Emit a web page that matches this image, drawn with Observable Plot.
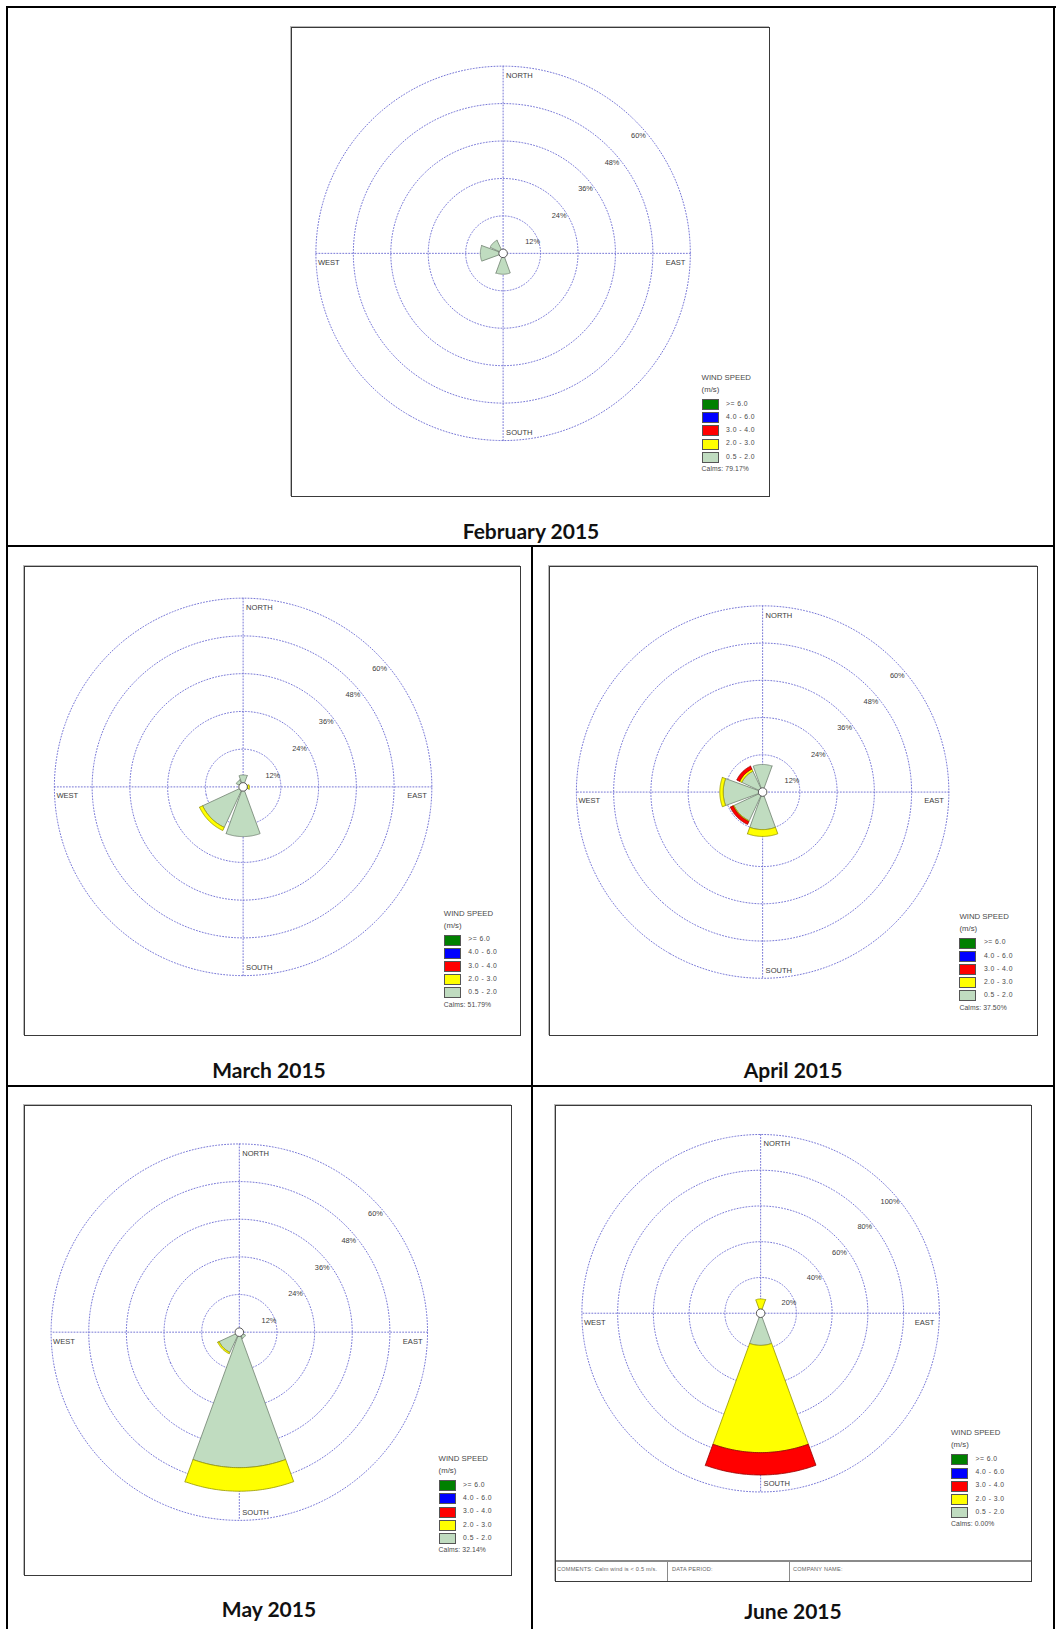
<!DOCTYPE html>
<html>
<head>
<meta charset="utf-8">
<script src="https://cdn.jsdelivr.net/npm/d3@7"></script>
<script src="https://cdn.jsdelivr.net/npm/@observablehq/plot@0.6"></script>
<style>
  body { margin: 0; background: #fff; }
  #page { position: relative; width: 1056px; height: 1629px; overflow: hidden; background: #fff;
          font-family: "Liberation Sans", Arial, sans-serif; }
  .rule { position: absolute; background: #000; }
  .frame { position: absolute; box-sizing: border-box; border: 1px solid #3a3a3a;
           box-shadow: -1px -1px 0 #b8b8b8; overflow: hidden; }
  .frame svg { position: absolute; left: -1px; top: -1px; background: #fff; }
  .title { position: absolute; transform: translate(-50%, -50%); white-space: nowrap;
           font-family: Lato, "Open Sans", sans-serif; font-weight: 700; font-size: 21px;
           line-height: 1.2; color: #111; }
  .legend { position: absolute; color: #4a4a4a; }
  .legend div { position: absolute; white-space: nowrap; }
  .lg-head { font-size: 7.8px; line-height: 10px; }
  .lg-lab { font-size: 6.8px; line-height: 10px; letter-spacing: 0.45px; }
  .lg-sw { width: 15px; height: 9px; border: 1px solid #555; }
  .footer { position: absolute; left: 0; right: 0; bottom: 0; height: 19px;
            border-top: 2px solid #8a8a8a; font-size: 5.6px; color: #666; }
  .footer div { position: absolute; top: 4px; white-space: nowrap; letter-spacing: 0.2px; }
  .footer .cell { top: 0; bottom: 0; width: 0; border-left: 1px solid #8a8a8a; }
</style>
</head>
<body>
<div id="page"></div>
<script>
// Speed classes (m/s) and their fills, lightest class first
const speedClasses = ["0.5 - 2.0", "2.0 - 3.0", "3.0 - 4.0", "4.0 - 6.0", ">= 6.0"];
const classColors = ["#c0dcc0", "#ffff00", "#ff0000", "#0000ff", "#008000"];

// Eight wind sectors, clockwise from north
const directions = ["N", "NE", "E", "SE", "S", "SW", "W", "NW"];

// Frequency (% of hours) per sector: [sector, 0.5-2.0, 2.0-3.0, 3.0-4.0, 4.0-6.0, >=6.0]
const feb2015 = [
  ["W", 7.3, 0, 0, 0, 0],
  ["NW", 4.6, 0, 0, 0, 0],
  ["S", 6.7, 0, 0, 0, 0]
];
const mar2015 = [
  ["N", 3.8, 0, 0, 0, 0],
  ["E", 1.4, 0.6, 0, 0, 0],
  ["S", 15.8, 0, 0, 0, 0],
  ["SW", 14.2, 1.1, 0, 0, 0],
  ["NW", 2.4, 0, 0, 0, 0]
];
const apr2015 = [
  ["N", 8.9, 0, 0, 0, 0],
  ["S", 12.1, 2.2, 0, 0, 0],
  ["SW", 10.2, 0.3, 1.0, 0, 0],
  ["W", 12.7, 1.1, 0, 0, 0],
  ["NW", 7.4, 0.75, 1.05, 0, 0]
];
const may2015 = [
  ["SE", 2.2, 0, 0, 0, 0],
  ["S", 43.2, 7.5, 0, 0, 0],
  ["SW", 7.1, 0.5, 0, 0, 0]
];
const jun2015 = [
  ["N", 1.5, 6.5, 0, 0, 0],
  ["S", 18.0, 60.0, 12.5, 0, 0]
];

// Calm share per month
const calmValues = ["79.17%", "51.79%", "37.50%", "32.14%", "0.00%"];
const monthTitles = ["February 2015", "March 2015", "April 2015", "May 2015", "June 2015"];

// Ring ticks (% frequency)
const ticksLow = [12, 24, 36, 48, 60];
const ticksHigh = [20, 40, 60, 80, 100];
const compassLabels = ["NORTH", "EAST", "SOUTH", "WEST"];

const GRID = "#7676d6";
const INK = "#3c3c3c";

// Page layout: frame box, rose centre and outer radius, legend anchor, title anchor
const panels = [
  { rows: feb2015, ticks: ticksLow, frame: [291, 27, 770, 497], center: [502.5, 252.8], radius: 188,
    legend: [701.6, 378], title: [531, 531] },
  { rows: mar2015, ticks: ticksLow, frame: [24, 566, 521, 1036], center: [242.5, 786.3], radius: 189.5,
    legend: [443.8, 913.6], title: [269, 1070] },
  { rows: apr2015, ticks: ticksLow, frame: [549, 566, 1038, 1036], center: [762, 791.5], radius: 187,
    legend: [959.4, 916.7], title: [793, 1070] },
  { rows: may2015, ticks: ticksLow, frame: [24, 1105, 512, 1576], center: [238.7, 1331.6], radius: 189,
    legend: [438.6, 1459.3], title: [269, 1609] },
  { rows: jun2015, ticks: ticksHigh, frame: [555, 1105, 1032, 1582], center: [760, 1312.6], radius: 179.5,
    legend: [951, 1433.4], title: [793, 1611], footer: true }
];

const page = document.getElementById("page");

function rule(x, y, w, h) {
  const d = document.createElement("div");
  d.className = "rule";
  Object.assign(d.style, { left: x + "px", top: y + "px", width: w + "px", height: h + "px" });
  page.appendChild(d);
}
// Table grid
rule(6, 6, 1050, 2);
rule(6, 6, 2, 1623);
rule(1053, 6, 2, 1623);
rule(6, 545, 1049, 2);
rule(6, 1085, 1049, 2);
rule(531, 545, 2, 1084);

// Polar mapping: rose centre is the pole of an azimuthal-equidistant projection,
// compass bearing -> longitude, % frequency -> colatitude.
const bearing = (dir) => directions.indexOf(dir) * 45;
const lonOf = (deg) => 180 - deg;

function wedge(dir, p0, p1, lat) {
  const c = lonOf(bearing(dir));
  const a0 = c - 20, a1 = c + 20, n = 48;
  const ring = [];
  for (let i = 0; i <= n; i++) ring.push([a0 + (a1 - a0) * i / n, lat(p1)]);
  const inner = Math.max(p0, 0.02);
  for (let i = n; i >= 0; i--) ring.push([a0 + (a1 - a0) * i / n, lat(inner)]);
  ring.push(ring[0]);
  let poly = { type: "Polygon", coordinates: [ring] };
  if (d3.geoArea(poly) > 2 * Math.PI) poly = { type: "Polygon", coordinates: [ring.slice().reverse()] };
  return poly;
}

function rose(p) {
  const max = d3.max(p.ticks);
  const k = 60 / max;
  const lat = (v) => 90 - v * k;
  const [fx0, fy0, fx1, fy1] = p.frame;
  const W = fx1 - fx0, H = fy1 - fy0;
  const cx = p.center[0] - fx0 + 1, cy = p.center[1] - fy0 + 1, R = p.radius;

  // stacked speed bands per sector
  const pieces = [];
  for (const row of p.rows) {
    let cum = 0;
    speedClasses.forEach((cls, i) => {
      const v = row[i + 1];
      if (v > 0) {
        pieces.push({ geometry: wedge(row[0], cum, cum + v, lat), fill: classColors[i],
                      edge: d3.color(classColors[i]).darker(1.5).formatHex() });
        cum += v;
      }
    });
  }
  const rim = lat(max);
  const axes = [
    { type: "LineString", coordinates: [[lonOf(0), rim], [lonOf(180), rim]] },
    { type: "LineString", coordinates: [[lonOf(90), rim], [lonOf(270), rim]] }
  ];
  const textStyle = { fill: INK, fontSize: 7.6, fontFamily: "Liberation Sans, Arial, sans-serif" };

  return Plot.plot({
    width: W, height: H,
    marginLeft: cx - R, marginRight: W - cx - R,
    marginTop: cy - R, marginBottom: H - cy - R,
    color: { type: "identity" },
    projection: {
      type: "azimuthal-equidistant",
      rotate: [0, -90],
      clip: false,
      domain: d3.geoCircle().center([0, 90]).radius(60).precision(0.5)()
    },
    marks: [
      Plot.geo(p.ticks, {
        geometry: (t) => d3.geoCircle().center([0, 90]).radius(t * k).precision(1)(),
        fill: "none", stroke: GRID, strokeWidth: 1, strokeDasharray: "1,2"
      }),
      Plot.geo(axes, { stroke: GRID, strokeWidth: 1, strokeDasharray: "1,2" }),
      Plot.geo(pieces, { geometry: (d) => d.geometry, fill: (d) => d.fill, stroke: (d) => d.edge, strokeWidth: 0.8 }),
      Plot.dot([0], { x: () => 0, y: () => 90, r: 4.3, fill: "white", stroke: "#555", strokeWidth: 1 }),
      Plot.text([compassLabels[0]], { x: () => lonOf(0), y: () => rim, text: (d) => d, dx: 3, dy: 9.5, textAnchor: "start", ...textStyle }),
      Plot.text([compassLabels[2]], { x: () => lonOf(180), y: () => rim, text: (d) => d, dx: 3, dy: -8, textAnchor: "start", ...textStyle }),
      Plot.text([compassLabels[3]], { x: () => lonOf(270), y: () => rim, text: (d) => d, dx: 2, dy: 9, textAnchor: "start", ...textStyle }),
      Plot.text([compassLabels[1]], { x: () => lonOf(90), y: () => rim, text: (d) => d, dx: -5, dy: 9, textAnchor: "end", ...textStyle }),
      Plot.text(p.ticks, { x: () => lonOf(45), y: (t) => lat(t), text: (t) => t + "%", dx: 3, dy: 15, textAnchor: "middle", ...textStyle, fontSize: 7.4 })
    ]
  });
}

function legend(x, y, calm) {
  const el = document.createElement("div");
  el.className = "legend";
  el.style.left = x + "px";
  el.style.top = y + "px";
  let html = `<div class="lg-head" style="left:0;top:-5px">WIND SPEED</div>` +
             `<div class="lg-head" style="left:0;top:7px">(m/s)</div>`;
  const order = speedClasses.map((_, i) => i).reverse();
  order.forEach((i, j) => {
    const top = 21 + j * 13.2;
    html += `<div class="lg-sw" style="left:0;top:${top}px;background:${classColors[i]}"></div>`;
    html += `<div class="lg-lab" style="left:24.5px;top:${top - 0.3}px">${speedClasses[i].replace(/ /g, "&nbsp;")}</div>`;
  });
  html += `<div class="lg-lab" style="left:0;top:86px;letter-spacing:0.1px">Calms: ${calm}</div>`;
  el.innerHTML = html;
  page.appendChild(el);
}

panels.forEach((p, idx) => {
  const [fx0, fy0, fx1, fy1] = p.frame;
  const frame = document.createElement("div");
  frame.className = "frame";
  Object.assign(frame.style, { left: fx0 + "px", top: fy0 + "px", width: (fx1 - fx0) + "px", height: (fy1 - fy0) + "px" });
  frame.appendChild(rose(p));
  if (p.footer) {
    const f = document.createElement("div");
    f.className = "footer";
    f.innerHTML = `<div style="left:1px">COMMENTS: Calm wind is &lt; 0.5 m/s.</div>` +
      `<div class="cell" style="left:111px"></div><div style="left:116px">DATA PERIOD:</div>` +
      `<div class="cell" style="left:233px"></div><div style="left:237px">COMPANY NAME:</div>`;
    frame.appendChild(f);
  }
  page.appendChild(frame);
  legend(p.legend[0], p.legend[1], calmValues[idx]);

  const t = document.createElement("div");
  t.className = "title";
  t.textContent = monthTitles[idx];
  t.style.left = p.title[0] + "px";
  t.style.top = p.title[1] + "px";
  page.appendChild(t);
});
</script>
</body>
</html>
